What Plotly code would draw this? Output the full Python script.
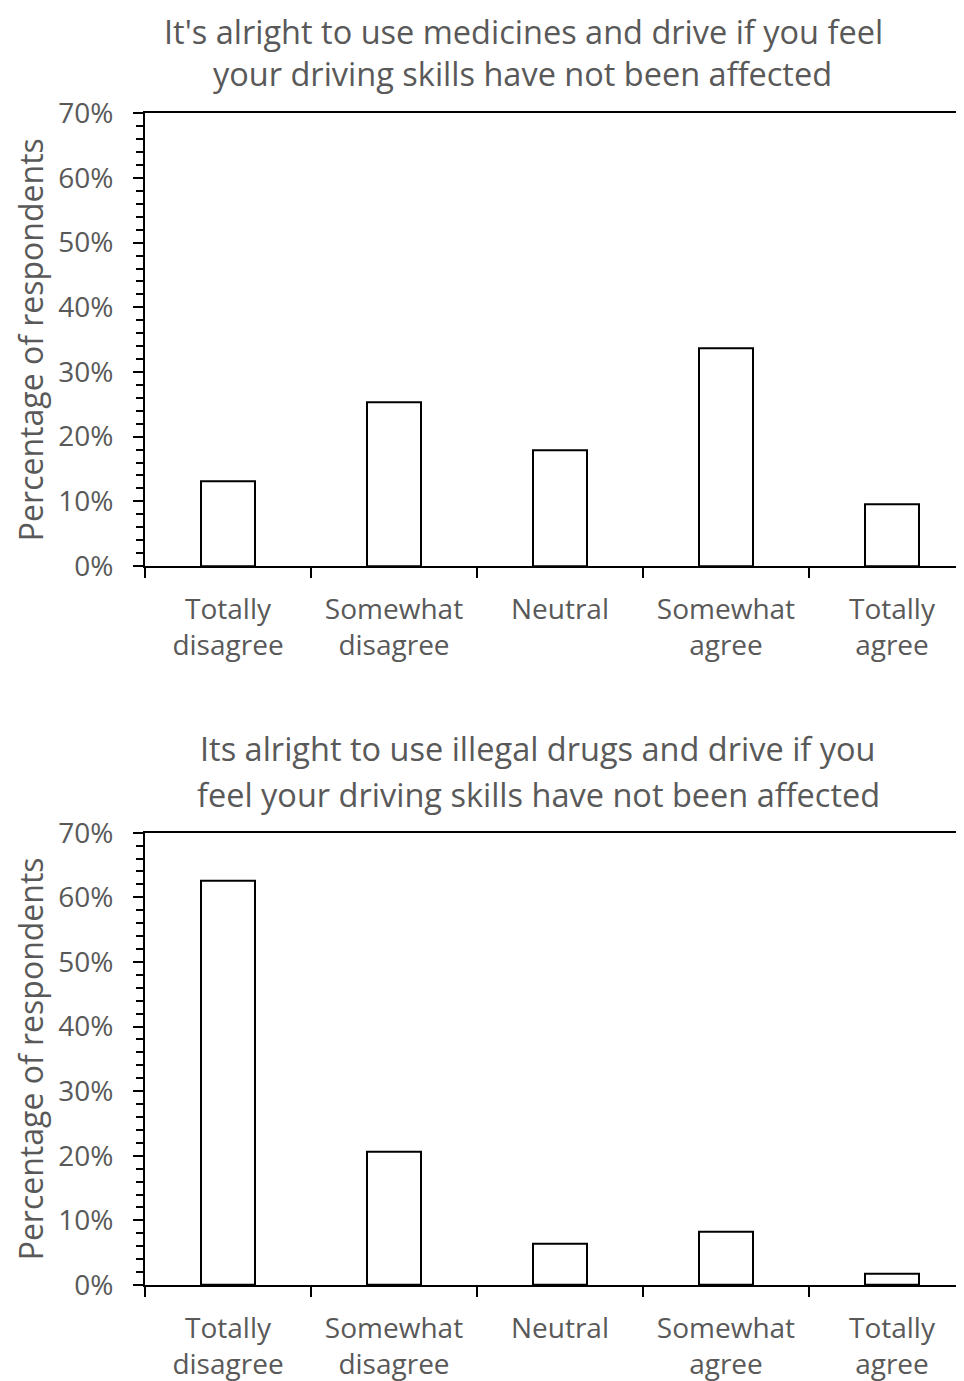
import plotly.graph_objects as go

categories = ["Totally<br>disagree", "Somewhat<br>disagree", "Neutral", "Somewhat<br>agree", "Totally<br>agree"]
medicines = [13.1, 25.3, 17.9, 33.7, 9.5]
illegal_drugs = [62.6, 20.6, 6.4, 8.2, 1.8]
title_top = ["It's alright to use medicines and drive if you feel",
             "your driving skills have not been affected"]
title_bottom = ["Its alright to use illegal drugs and drive if you",
                "feel your driving skills have not been affected"]
y_title = "Percentage of respondents"
y_ticks = [0, 10, 20, 30, 40, 50, 60, 70]
y_labels = [f"{v}%" for v in y_ticks]

OFF = 8  # page body margin
W, H = 964 - OFF, 1381 - OFF
FONT = "Open Sans"
GREY = "#595959"
TICK = 28
TITLE = 32.5

fig = go.Figure()
for i, vals in enumerate([medicines, illegal_drugs]):
    fig.add_trace(go.Bar(
        x=categories, y=vals, width=0.32,
        marker=dict(color="white", line=dict(color="black", width=2)),
        xaxis="x" if i == 0 else "x2", yaxis="y" if i == 0 else "y2",
        showlegend=False, hoverinfo="skip"))

def py(p):
    return 1 - (p - OFF) / H

def px(p):
    return (p - OFF) / W

xdom = [px(145), 1]
xcommon = dict(
    domain=xdom, type="category", range=[-0.5, 4.434],
    showline=True, linecolor="black", linewidth=2, mirror=True,
    ticks="outside", ticklen=10, tickwidth=2, tickcolor="black",
    tickson="boundaries", showgrid=False, zeroline=False,
    tickfont=dict(family=FONT, size=TICK, color=GREY),
    ticklabelstandoff=17, automargin=False,
)
ycommon = dict(
    range=[0, 70], tickvals=y_ticks, ticktext=y_labels,
    showline=True, linecolor="black", linewidth=2,
    ticks="outside", ticklen=10, tickwidth=2, tickcolor="black",
    minor=dict(dtick=2, ticks="outside", ticklen=7, tickwidth=2, tickcolor="black", showgrid=False),
    showgrid=False, zeroline=False,
    tickfont=dict(family=FONT, size=TICK, color=GREY),
    ticklabelstandoff=14, automargin=False,
)

fig.update_layout(
    width=W, height=H,
    margin=dict(l=0, r=0, t=0, b=0),
    paper_bgcolor="white", plot_bgcolor="white",
    bargap=0,
    xaxis=dict(**xcommon, anchor="y"),
    yaxis=dict(**ycommon, domain=[py(566), py(113.3)], anchor="x"),
    xaxis2=dict(**xcommon, anchor="y2"),
    yaxis2=dict(**ycommon, domain=[py(1285), py(832.7)], anchor="x2"),
)

anns = []
# first title line anchored to the top edge so its box stays inside the figure
anns.append(dict(text=title_top[0], x=px(523), y=1, xref="paper", yref="paper",
                 xanchor="center", yanchor="top", showarrow=False, borderpad=0,
                 font=dict(family=FONT, size=TITLE, color=GREY)))
for txt, xc, yc in [(title_top[1], 522, 73),
                    (title_bottom[0], 538, 748), (title_bottom[1], 538, 794)]:
    anns.append(dict(text=txt, x=px(xc), y=py(yc), xref="paper", yref="paper",
                     xanchor="center", yanchor="middle", showarrow=False,
                     font=dict(family=FONT, size=TITLE, color=GREY)))
for yc in [(113.3 + 566) / 2, (832.7 + 1285) / 2]:
    anns.append(dict(text=y_title, textangle=-90, x=0, y=py(yc), xref="paper", yref="paper",
                     xanchor="left", yanchor="middle", showarrow=False, borderpad=0,
                     font=dict(family=FONT, size=32, color=GREY)))
fig.update_layout(annotations=anns)

fig.write_html("out.html")
